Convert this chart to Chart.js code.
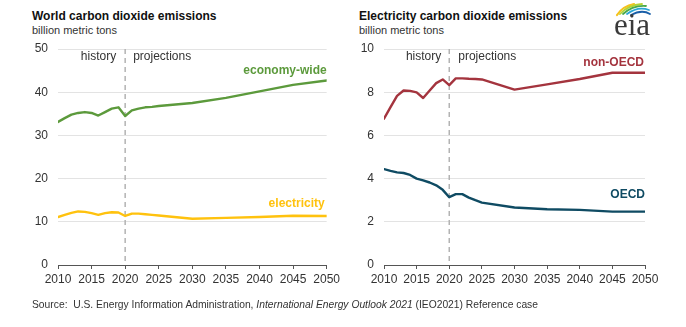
<!DOCTYPE html>
<html>
<head>
<meta charset="utf-8">
<script src="https://cdn.jsdelivr.net/npm/chart.js@4.4.1/dist/chart.umd.min.js"></script>
<style>
  html, body { margin: 0; padding: 0; background: #fff; }
  body { width: 686px; height: 327px; position: relative; overflow: hidden;
         font-family: "Liberation Sans", Arial, sans-serif; color: #222; }
  canvas { position: absolute; top: 0; }
  #worldChart { left: 0; }
  #elecChart { left: 343px; }
  .title { position: absolute; top: 10px; font-weight: bold; font-size: 12px; line-height: 12px; color: #111; white-space: nowrap; }
  .sub { position: absolute; top: 25px; font-size: 11px; line-height: 11px; color: #333; white-space: nowrap; }
  .src { position: absolute; left: 32px; top: 299px; font-size: 10.3px; line-height: 12px; color: #333; white-space: nowrap; }
  #logo { position: absolute; left: 606px; top: 0; }
</style>
</head>
<body>
<div class="title" style="left:32px">World carbon dioxide emissions</div>
<div class="sub" style="left:32px">billion metric tons</div>
<div class="title" style="left:359px">Electricity carbon dioxide emissions</div>
<div class="sub" style="left:359px">billion metric tons</div>

<canvas id="worldChart" width="343" height="300"></canvas>
<canvas id="elecChart" width="343" height="300"></canvas>

<svg id="logo" width="50" height="40" viewBox="0 0 50 40">
  <path d="M11 15 Q17 6 28 4" stroke="#f6c21c" stroke-width="2.2" fill="none" stroke-linecap="round"/>
  <path d="M14 14 Q22 5 36 4" stroke="#b5d334" stroke-width="1.8" fill="none" stroke-linecap="round"/>
  <path d="M17 14 Q27 5 40 6" stroke="#4aa84a" stroke-width="1.8" fill="none" stroke-linecap="round"/>
  <path d="M21 14 Q32 6 43 10" stroke="#2aa6d6" stroke-width="1.8" fill="none" stroke-linecap="round"/>
  <path d="M25 15 Q36 9 44 14" stroke="#1a5fa8" stroke-width="1.8" fill="none" stroke-linecap="round"/>
  <text x="8" y="35" font-family="Liberation Serif, 'Times New Roman', serif" font-size="31" fill="#3a3a3a">eia</text>
</svg>

<div class="src">Source:&nbsp; U.S. Energy Information Administration, <i>International Energy Outlook 2021</i> (IEO2021) Reference case</div>

<script>
// Years shared by every series (annual history, then five-year projection steps)
const years = [2010, 2011, 2012, 2013, 2014, 2015, 2016, 2017, 2018, 2019, 2020,
               2021, 2022, 2023, 2024, 2025, 2030, 2035, 2040, 2045, 2050];

// World CO2 emissions, billion metric tons
const economyWide = [33.1, 34.0, 34.8, 35.2, 35.4, 35.2, 34.6, 35.4, 36.2, 36.5, 34.5,
                     35.8, 36.2, 36.5, 36.6, 36.8, 37.5, 38.7, 40.2, 41.7, 42.7];
const electricity = [11.1, 11.6, 12.05, 12.4, 12.3, 12.0, 11.6, 12.0, 12.2, 12.15, 11.35,
                     11.9, 11.9, 11.75, 11.6, 11.45, 10.7, 10.9, 11.1, 11.4, 11.35];

// Electricity CO2 emissions by region, billion metric tons
const nonOECD = [6.77, 7.31, 7.83, 8.08, 8.06, 7.99, 7.73, 8.08, 8.42, 8.59, 8.33,
                 8.64, 8.64, 8.62, 8.61, 8.59, 8.12, 8.36, 8.61, 8.9, 8.9];
const oecd = [4.44, 4.36, 4.29, 4.26, 4.17, 4.0, 3.92, 3.82, 3.69, 3.48, 3.14,
              3.28, 3.28, 3.12, 3.0, 2.89, 2.66, 2.58, 2.55, 2.47, 2.47];

// Axis ticks
const xTicks = [2010, 2015, 2020, 2025, 2030, 2035, 2040, 2045, 2050];
const worldYTicks = [0, 10, 20, 30, 40, 50];
const elecYTicks = [0, 2, 4, 6, 8, 10];
const splitYear = 2020;

const FONT = '"Liberation Sans", Arial, sans-serif';
const COLORS = { economy: '#5c9a3c', elec: '#ffc20e', nonOecd: '#a4343e', oecd: '#0f4b63' };

function points(vals) { return years.map((y, i) => ({ x: y, y: vals[i] })); }

// Dashed history/projection divider plus in-plot text labels
const overlayPlugin = {
  id: 'overlay',
  beforeDatasetsDraw(chart) {
    const { ctx, chartArea, scales } = chart;
    const x = scales.x.getPixelForValue(splitYear);
    ctx.save();
    ctx.strokeStyle = '#b3b3b3';
    ctx.lineWidth = 1.5;
    ctx.setLineDash([5, 4]);
    ctx.beginPath();
    ctx.moveTo(x, chartArea.top);
    ctx.lineTo(x, chartArea.bottom);
    ctx.stroke();
    ctx.restore();
  },
  afterDatasetsDraw(chart, args, opts) {
    const { ctx, scales } = chart;
    ctx.save();
    ctx.textBaseline = 'middle';
    (opts.labels || []).forEach(l => {
      ctx.font = (l.bold ? 'bold ' : '') + '12px ' + FONT;
      ctx.fillStyle = l.color;
      ctx.textAlign = l.align;
      ctx.fillText(l.text, scales.x.getPixelForValue(l.x) + (l.dx || 0), scales.y.getPixelForValue(l.y));
    });
    ctx.restore();
  }
};

function makeChart(id, datasets, yMax, yTicks, yWidth, padRight, labels) {
  return new Chart(document.getElementById(id), {
    type: 'line',
    data: { datasets },
    plugins: [overlayPlugin],
    options: {
      responsive: false,
      animation: false,
      devicePixelRatio: 1,
      layout: { padding: { top: 49, right: padRight, left: 0, bottom: 0 } },
      elements: { point: { radius: 0 }, line: { borderWidth: 2.4, tension: 0, borderJoinStyle: 'round', borderCapStyle: 'round' } },
      plugins: { legend: { display: false }, tooltip: { enabled: false }, overlay: { labels } },
      scales: {
        x: {
          type: 'linear', min: 2010, max: 2050,
          afterBuildTicks: s => { s.ticks = xTicks.map(v => ({ value: v })); },
          afterFit: s => { s.height = 35; },
          grid: { drawOnChartArea: false, drawTicks: true, tickLength: 4, color: '#555', lineWidth: 1 },
          border: { display: true, color: '#555', width: 1 },
          ticks: { padding: 3, color: '#333', font: { size: 12, family: FONT }, maxRotation: 0, autoSkip: false,
                   callback: v => String(v) }
        },
        y: {
          min: 0, max: yMax,
          afterBuildTicks: s => { s.ticks = yTicks.map(v => ({ value: v })); },
          afterFit: s => { s.width = yWidth; },
          grid: { color: '#e3e3e3', lineWidth: 1, drawTicks: false },
          border: { display: false },
          ticks: { padding: 10, color: '#333', font: { size: 12, family: FONT } }
        }
      }
    }
  });
}

makeChart('worldChart', [
  { data: points(economyWide), borderColor: COLORS.economy },
  { data: points(electricity), borderColor: COLORS.elec }
], 50, worldYTicks, 58, 16, [
  { text: 'history', x: splitYear, dx: -9, y: 48.2, align: 'right', color: '#333' },
  { text: 'projections', x: splitYear, dx: 8, y: 48.2, align: 'left', color: '#333' },
  { text: 'economy-wide', x: 2050, y: 45.0, align: 'right', color: COLORS.economy, bold: true },
  { text: 'electricity', x: 2050, dx: -2, y: 14.1, align: 'right', color: COLORS.elec, bold: true }
]);

makeChart('elecChart', [
  { data: points(nonOECD), borderColor: COLORS.nonOecd },
  { data: points(oecd), borderColor: COLORS.oecd }
], 10, elecYTicks, 41, 41, [
  { text: 'history', x: splitYear, dx: -8, y: 9.64, align: 'right', color: '#333' },
  { text: 'projections', x: splitYear, dx: 9, y: 9.64, align: 'left', color: '#333' },
  { text: 'non-OECD', x: 2050, dx: -1, y: 9.36, align: 'right', color: COLORS.nonOecd, bold: true },
  { text: 'OECD', x: 2050, y: 3.25, align: 'right', color: COLORS.oecd, bold: true }
]);
</script>
</body>
</html>
